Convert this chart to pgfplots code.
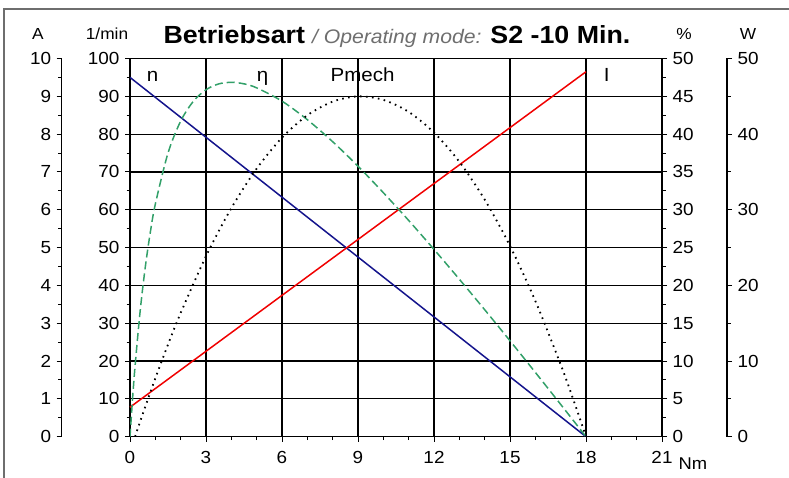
\documentclass[border=0pt]{standalone}
\usepackage{fontspec}
\setmainfont{Liberation Sans}[FakeStretch=1.08]
\usepackage{pgfplots}
\pgfplotsset{compat=1.18}
\definecolor{nblue}{RGB}{20,20,140}
\definecolor{ired}{RGB}{240,0,0}
\definecolor{etagreen}{RGB}{50,160,105}
\definecolor{framegray}{RGB}{110,110,110}
\definecolor{titlegray}{RGB}{110,110,110}
\pgfplotsset{
 base/.style={scale only axis, height=378.2pt, anchor=south west,
   ymin=0, tick align=outside, major tick length=5pt, minor tick length=3.5pt,
   every tick/.style={black, line width=1pt},
   axis line style={black, line width=1.4pt, -},
   /pgf/number format/assume math mode=true,
   tick label style={font=\fontsize{17.5}{20}\selectfont},
 }
}
\begin{document}
\begin{tikzpicture}[x=1pt,y=1pt]
\useasboundingbox (0,0) rectangle (789,478);
\draw[framegray, line width=1.5pt] (4,-20) -- (4,469) -- (800,469);

% main axis (1/min)
\begin{axis}[base, at={(130pt,41.3pt)}, width=532pt, xmin=0, xmax=21, ymax=100,
  xtick={0,3,...,21}, minor xtick={1,2,4,5,7,8,10,11,13,14,16,17,19,20},
  ytick={0,10,...,100}, minor ytick={5,15,...,95},
  xtick pos=bottom, ytick pos=left,
  grid=major, major grid style={black, line width=1.2pt},
  xticklabel style={yshift=-6pt}, yticklabel style={xshift=-2pt}]
\addplot[nblue, line width=1.5pt] coordinates {(0,95) (18,0)};
\end{axis}

% A axis
\begin{axis}[base, at={(61.7pt,41.3pt)}, width=600.3pt, xmin=-2.696, xmax=21, ymax=10,
  hide x axis, axis y line*=left, ytick={0,1,...,10}, minor ytick={0.5,1.5,...,9.5},
  yticklabel style={xshift=-2pt}]
\addplot[ired, line width=1.5pt] coordinates {(0,0.78) (18,9.65)};
\end{axis}

% % axis
\begin{axis}[base, at={(130pt,41.3pt)}, width=532pt, xmin=0, xmax=21, ymax=50,
  hide x axis, axis y line*=right, ytick={0,5,...,50}, minor ytick={2.5,7.5,...,47.5},
  yticklabel style={xshift=2pt}]
\addplot[etagreen, line width=1.5pt, dash pattern=on 8pt off 4pt, smooth] coordinates {
(0,0) (0.1,4.97) (0.2,9.33) (0.4,16.59) (0.6,22.34) (0.8,26.98) (1,30.75) (1.5,37.50)
(2,41.72) (2.5,44.34) (3,45.87) (3.5,46.64) (4,46.85) (4.5,46.65) (5,46.12) (6,44.36)
(7,41.91) (8,39.00) (9,35.76) (10,32.26) (11,28.59) (12,24.76) (13,20.82) (14,16.79)
(15,12.68) (16,8.50) (17,4.27) (18,0)};
\end{axis}

% W axis
\begin{axis}[base, at={(130pt,41.3pt)}, width=597pt, xmin=0, xmax=23.566, ymax=50,
  hide x axis, axis y line*=right, ytick={0,10,...,50}, minor ytick={5,15,...,45},
  yticklabel style={xshift=2pt}]
\addplot[black, line width=1.8pt, dash pattern=on 1.6pt off 4.4pt, smooth] coordinates {
(0.2,0) (0.5,2.98) (1,7.72) (1.5,12.18) (2,16.36) (3,23.86) (4,30.22) (5,35.44)
(6,39.53) (7,42.49) (8,44.30) (9,44.99) (10,44.53) (11,42.94) (12,40.21) (13,36.35)
(14,31.35) (15,25.22) (16,17.95) (17,9.54) (17.5,4.91) (18,0)};
\end{axis}

% titles and labels
\node[anchor=base, inner sep=0pt] at (397,434.7) {{\fontsize{24.8}{28}\selectfont\bfseries Betriebsart}\hspace{7pt}{\fontsize{19.6}{23}\selectfont\itshape\color{titlegray}/ Operating mode:}\hspace{9pt}{\fontsize{24.8}{28}\selectfont\bfseries S2 -10 Min.}};
\node[anchor=base, inner sep=0pt, font=\fontsize{16}{18}\selectfont] at (38,438.7) {A};
\node[anchor=base, inner sep=0pt, font=\fontsize{16}{18}\selectfont] at (107,438.7) {1/min};
\node[anchor=base, inner sep=0pt, font=\fontsize{16}{18}\selectfont] at (684,438.7) {\%};
\node[anchor=base, inner sep=0pt, font=\fontsize{16}{18}\selectfont] at (748,438.7) {W};
\node[anchor=base, inner sep=0pt, font=\fontsize{17}{18}\selectfont] at (693,8) {Nm};
\node[anchor=base, inner sep=0pt, font=\fontsize{19}{22}\selectfont] at (152.7,396.5) {n};
\node[anchor=base, inner sep=0pt, font=\fontsize{19}{22}\selectfont] at (262.7,396.5) {η};
\node[anchor=base, inner sep=0pt, font=\fontsize{19}{22}\selectfont] at (362.5,396.5) {Pmech};
\node[anchor=base, inner sep=0pt, font=\fontsize{19}{22}\selectfont] at (606.7,396.5) {I};
\end{tikzpicture}
\end{document}
